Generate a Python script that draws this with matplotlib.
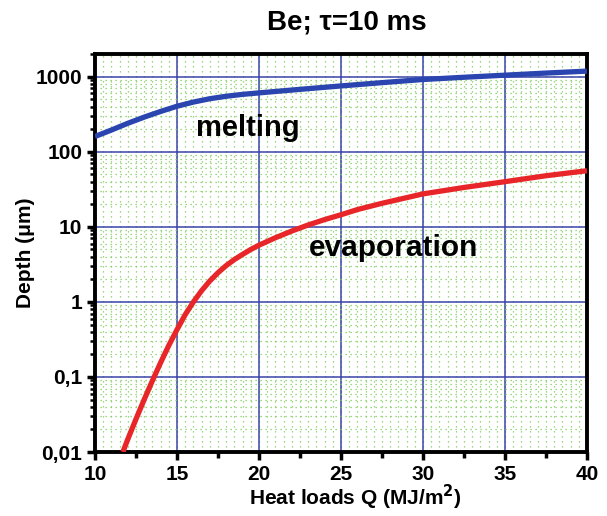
import numpy as np
import matplotlib
matplotlib.use("Agg")
import matplotlib.pyplot as plt
from matplotlib.ticker import FixedLocator, MultipleLocator, LogLocator, NullFormatter

# Data
melt_q = [10, 11, 12, 13, 14, 15, 16, 17, 18, 19, 20, 22.5, 25, 27.5, 30, 32.5, 35, 37.5, 40]
melt_d = [160, 195, 240, 290, 345, 405, 460, 510, 550, 583, 610, 680, 755, 835, 920, 985, 1050, 1120, 1190]

evap_q = [11.7, 12.0, 12.5, 13.0, 13.5, 14.0, 14.5, 15.0, 15.5, 16.0, 16.5, 17.0, 17.5, 18.0,
          18.5, 19.0, 19.5, 20.0, 21.0, 22.0, 23.0, 24.0, 25.0, 26.0, 27.5, 30.0, 32.5, 35.0, 37.5, 40.0]
evap_d = [0.01, 0.0148, 0.0275, 0.050, 0.089, 0.155, 0.263, 0.427, 0.676, 1.0, 1.41, 1.9, 2.45, 3.05,
          3.67, 4.3, 5.0, 5.7, 7.16, 8.8, 10.6, 12.5, 14.5, 17.0, 20.6, 27.5, 33.5, 40, 48, 56]

xticks = [10, 15, 20, 25, 30, 35, 40]
yticks = [0.01, 0.1, 1, 10, 100, 1000]
ytick_labels = ["0,01", "0,1", "1", "10", "100", "1000"]

plt.rcParams['font.family'] = ['Liberation Sans', 'DejaVu Sans']
plt.rcParams['font.weight'] = 'bold'

fig = plt.figure(figsize=(6.07, 5.16), dpi=100)
ax = fig.add_axes([0.1565, 0.124, 0.967 - 0.1565, 0.895 - 0.124])

ax.set_xlim(10, 40)
ax.set_ylim(0.01, 2000)
ax.set_yscale('log')

# minor green dotted grid
for xv in np.arange(10.5, 40, 0.5):
    ax.axvline(xv, color='#7ccc5a', lw=0.9, ls=(0, (1, 3)), zorder=0)
ax.yaxis.set_minor_locator(LogLocator(base=10, subs=np.arange(2, 10)))
ax.yaxis.set_minor_formatter(NullFormatter())
ax.grid(which='minor', axis='y', color='#7ccc5a', lw=0.9, ls=(0, (1, 3)), zorder=0)

# major grid
ax.xaxis.set_major_locator(FixedLocator(xticks))
ax.xaxis.set_minor_locator(MultipleLocator(2.5))
ax.yaxis.set_major_locator(FixedLocator(yticks))
ax.set_yticklabels(ytick_labels)
ax.grid(which='major', color='#3a44a8', lw=1.1, zorder=1)
ax.set_axisbelow(True)

ax.plot(melt_q, melt_d, color='#2a44b0', lw=3.8, solid_capstyle='butt', solid_joinstyle='round', zorder=3)
ax.plot(evap_q, evap_d, color='#e8262a', lw=3.8, solid_capstyle='butt', solid_joinstyle='round', zorder=3)

ax.text(19.3, 205, 'melting', fontsize=21, fontweight='bold', ha='center', va='center', zorder=4)
ax.text(28.2, 5.3, 'evaporation', fontsize=21.5, fontweight='bold', ha='center', va='center', zorder=4)

for s in ax.spines.values():
    s.set_linewidth(2.8)
    s.set_color('black')
ax.tick_params(which='major', direction='out', length=6, width=2.5, labelsize=15, pad=3)
ax.tick_params(which='minor', direction='out', length=3.5, width=1.8)
ax.tick_params(axis='x', which='minor', length=4, width=2.5)
for lab in ax.get_xticklabels() + ax.get_yticklabels():
    lab.set_fontweight('bold')

ax.set_xlabel('Heat loads Q (MJ/m$^\\mathbf{2}$)', fontsize=15, fontweight='bold')
ax.xaxis.set_label_coords(0.53, -0.078)
ax.set_ylabel('Depth (\u03bcm)', fontsize=15, fontweight='bold')
ax.yaxis.set_label_coords(-0.122, 0.5)
fig.text(0.572, 0.957, 'Be; \u03c4=10 ms', fontsize=20, fontweight='bold', ha='center', va='center')

fig.savefig('out.png', dpi=100)
